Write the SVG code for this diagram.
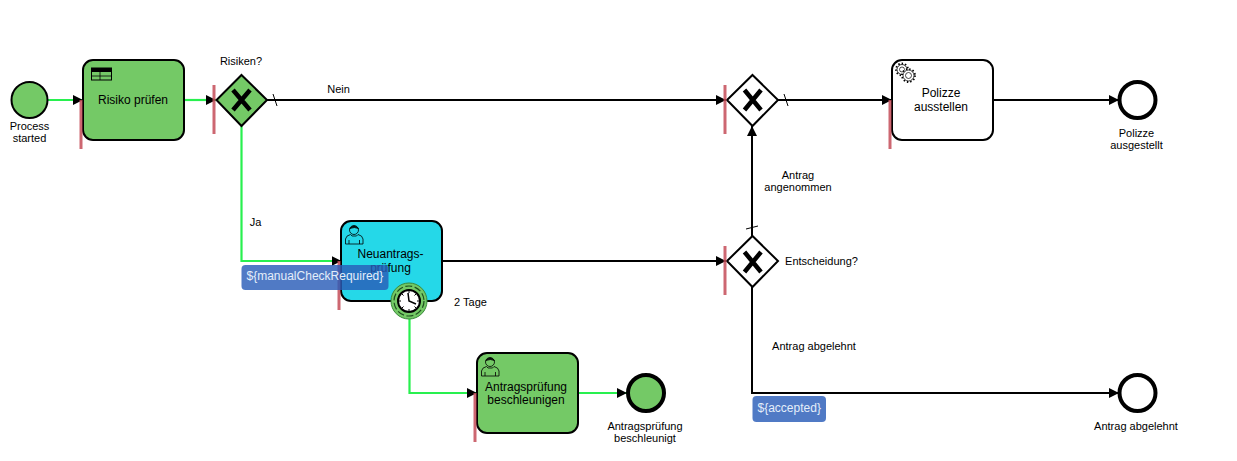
<svg xmlns="http://www.w3.org/2000/svg" width="1237" height="461" viewBox="0 0 1237 461">
<style>
text{font-family:"Liberation Sans",Arial,sans-serif;font-size:11px;fill:#000;text-anchor:middle}
.tt{font-size:12px}
.task{stroke:#000;stroke-width:2px}
.green{fill:#74c966}
.cyan{fill:#25d8e8}
.white{fill:#fff}
.gw{stroke:#000;stroke-width:2px}
.x{fill:none;stroke:#000;stroke-width:4.5px}
.flow{fill:none;stroke:#000;stroke-width:2px}
.hot{fill:none;stroke:#28f04f;stroke-width:2.200px}
.tick{stroke:#000;stroke-width:1px}
.bar{stroke:#c44c58;stroke-opacity:.85;stroke-width:3px}
.icon{fill:none;stroke:#000;stroke-width:.8px}
.badge{fill:#2a5db8;fill-opacity:.82}
.btxt{fill:#e4eefa;text-anchor:start;font-size:12px}
</style>
<defs>
<marker id="arrow" markerUnits="userSpaceOnUse" markerWidth="11" markerHeight="12" refX="10" refY="6" orient="auto"><path d="M0 1L10 6L0 11z" fill="#000"/></marker>
<g id="person" class="icon"><circle cx="9" cy="6" r="4.500"/><path d="M4.800 4.500Q9 -0.500 13.500 4.500Q9.500 2.500 4.800 4.500z" fill="#000"/><path d="M0.500 20V15Q1 11.500 5.500 10.500L7 12H11.500L13 10.500Q17.500 11.500 18 15V20z"/><path d="M4 20V16M14.500 20V16"/></g>
</defs>
<g id="connectors">
<path class="hot" d="M48 100H83" marker-end="url(#arrow)"/>
<path class="hot" d="M184 100H216" marker-end="url(#arrow)"/>
<path class="flow" d="M267 100H726" marker-end="url(#arrow)"/>
<path class="tick" d="M273 94L277 106"/>
<path class="hot" d="M241.500 126V261H341.500" marker-end="url(#arrow)"/>
<path class="flow" d="M442 261H726" marker-end="url(#arrow)"/>
<path class="flow" d="M778 100H892" marker-end="url(#arrow)"/>
<path class="tick" d="M784 94L788 106"/>
<path class="flow" d="M993 100H1119" marker-end="url(#arrow)"/>
<path class="flow" d="M752 236V126" marker-end="url(#arrow)"/>
<path class="tick" d="M746 229L758 226"/>
<path class="flow" d="M752 287V393H1119" marker-end="url(#arrow)"/>
<path class="hot" d="M409.500 319V393H477" marker-end="url(#arrow)"/>
<path class="hot" d="M578 393H627" marker-end="url(#arrow)"/>
</g>
<g id="start"><circle class="green task" cx="29.500" cy="100" r="18"/><text x="29.500" y="130">Process</text><text x="29.500" y="142">started</text></g>
<g id="risiko"><rect class="green task" x="83" y="60" width="101" height="80" rx="10"/>
<rect x="91.500" y="68" width="20" height="12" fill="none" stroke="#000"/><rect x="91.500" y="68" width="20" height="4" fill="#000"/><path class="icon" d="M91.500 76H111.500M100 72V80"/>
<text class="tt" x="133" y="104">Risiko prüfen</text></g>
<path class="bar" d="M81 100V149"/>
<g id="gw1"><path class="green gw" d="M241.500 75L267 100L241.500 126L216.500 100z"/><path class="x" d="M233 90L250 110M250 90L233 110"/><text x="241" y="65">Risiken?</text></g>
<path class="bar" d="M214 85V134"/>
<g id="gw2"><path class="white gw" d="M752.500 75L778 100L752.500 126L727 100z"/><path class="x" d="M744.500 90L761 110M761 90L744.500 110"/></g>
<path class="bar" d="M725 85V134"/>
<g id="polizze"><rect class="white task" x="892" y="60" width="101" height="80" rx="10"/>
<g fill="#fff" stroke="#000"><circle cx="902" cy="69.500" r="6" stroke-width="1.800" stroke-dasharray="1.400 2"/><circle cx="902" cy="69.500" r="5" stroke-width=".8"/><circle cx="902" cy="69.500" r="2.500" stroke-width=".7"/><circle cx="908.500" cy="75.500" r="6.500" stroke-width="1.800" stroke-dasharray="1.400 2"/><circle cx="908.500" cy="75.500" r="5.500" stroke-width=".8"/><circle cx="908.500" cy="75.500" r="3" stroke-width=".7"/></g>
<text class="tt" x="941" y="97">Polizze</text><text class="tt" x="941" y="111">ausstellen</text></g>
<path class="bar" d="M890 100V149"/>
<g id="end1"><circle class="white" cx="1137.500" cy="100" r="18" stroke="#000" stroke-width="4"/><text x="1136.500" y="137">Polizze</text><text x="1136.500" y="149">ausgestellt</text></g>
<g id="neu"><rect class="cyan task" x="341" y="221" width="101" height="80" rx="10"/>
<use href="#person" x="345" y="224"/>
<text class="tt" x="390.500" y="258">Neuantrags-</text><text class="tt" x="390.500" y="272">prüfung</text></g>
<path class="bar" d="M339 261V310"/>
<g id="timer"><circle class="green" cx="409" cy="301" r="18" stroke="#3a8a3a" stroke-width="1"/><circle cx="409" cy="301" r="15" fill="none" stroke="#1f4f1f" stroke-width="1.200" stroke-dasharray="7 2.500"/><circle cx="409" cy="301" r="11" fill="#fff" stroke="#000" stroke-width="2"/><path d="M409 291V293M409 309V311M399 301H401M417 301H419M402 294L403.500 295.500M416 294L414.500 295.500M402 308L403.500 306.500M416 308L414.500 306.500" stroke="#000"/><path d="M408 293L409 301L416 304" fill="none" stroke="#000" stroke-width="1.500"/></g>
<g id="gw3"><path class="white gw" d="M752.500 236L778 261L752.500 287L727 261z"/><path class="x" d="M744.500 252L761 272M761 252L744.500 272"/><text x="821.500" y="265">Entscheidung?</text></g>
<path class="bar" d="M725 246V295"/>
<g id="accel"><rect class="green task" x="477" y="353" width="101" height="80" rx="10"/>
<use href="#person" x="481" y="356"/>
<text class="tt" x="526" y="391">Antragsprüfung</text><text class="tt" x="526" y="404">beschleunigen</text></g>
<path class="bar" d="M475 393V442"/>
<g id="end2"><circle class="green" cx="646" cy="393" r="18" stroke="#000" stroke-width="4"/><text x="645" y="430">Antragsprüfung</text><text x="645" y="442">beschleunigt</text></g>
<g id="end3"><circle class="white" cx="1137.500" cy="393" r="18" stroke="#000" stroke-width="4"/><text x="1136" y="430">Antrag abgelehnt</text></g>
<g id="labels">
<text x="338.500" y="93">Nein</text>
<text x="255.500" y="226">Ja</text>
<text x="470.500" y="306">2 Tage</text>
<text x="798" y="179">Antrag</text><text x="798" y="191">angenommen</text>
<text x="814" y="350">Antrag abgelehnt</text>
</g>
<g id="overlays">
<rect class="badge" x="241.500" y="265" width="147" height="25" rx="4"/><text class="btxt" x="246.500" y="280">${manualCheckRequired}</text>
<rect class="badge" x="752.500" y="396" width="73.500" height="26" rx="4"/><text class="btxt" x="757.500" y="412">${accepted}</text>
</g>
</svg>
